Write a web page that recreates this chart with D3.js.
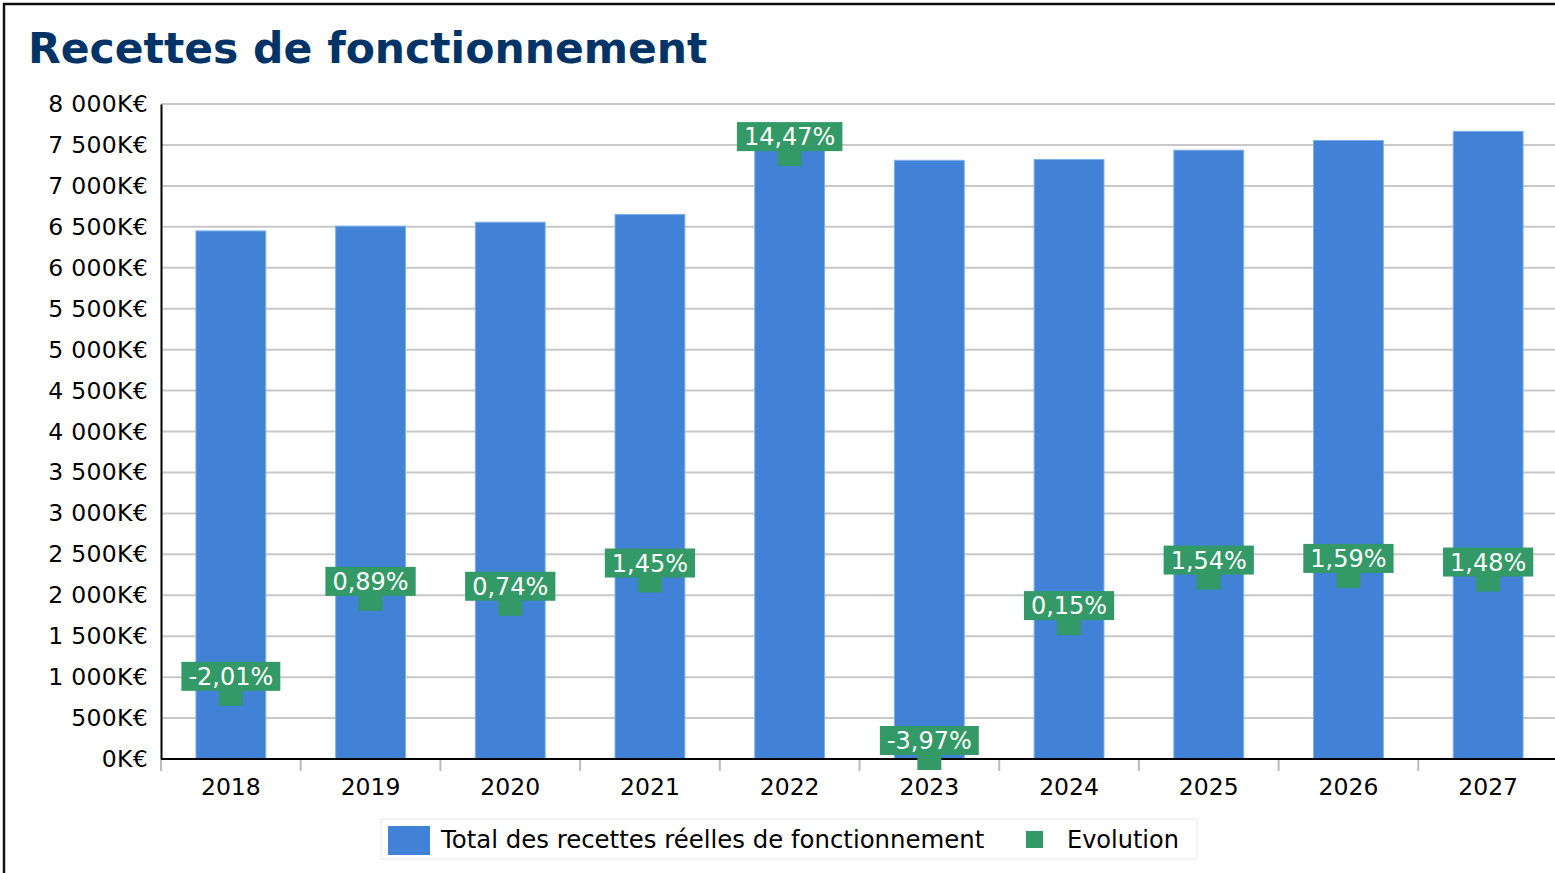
<!DOCTYPE html>
<html>
<head>
<meta charset="utf-8">
<script src="https://cdn.jsdelivr.net/npm/d3@7"></script>
<style>
  body { margin: 0; background: #fff; }
  text { font-family: "DejaVu Sans", sans-serif; }
</style>
</head>
<body>
<svg width="1555" height="873"></svg>
<script>
var years = ["2018", "2019", "2020", "2021", "2022", "2023", "2024", "2025", "2026", "2027"];
// K€
var totals = [6450, 6508, 6556, 6651, 7614, 7312, 7323, 7436, 7554, 7666];
// %
var evolution = [-2.01, 0.89, 0.74, 1.45, 14.47, -3.97, 0.15, 1.54, 1.59, 1.48];
var yTicks = [0, 500, 1000, 1500, 2000, 2500, 3000, 3500, 4000, 4500, 5000, 5500, 6000, 6500, 7000, 7500, 8000];

var svg = d3.select("svg"),
    pLeft = 161, pRight = 1558, pTop = 104, pBottom = 759;

var blue = "#4182d6", green = "#339966";

// outer frame (only top/left visible)
svg.append("rect")
    .attr("x", 4).attr("y", 4)
    .attr("width", 1700).attr("height", 1000)
    .attr("fill", "none").attr("stroke", "#111").attr("stroke-width", 2.5);

svg.append("text")
    .attr("x", 28).attr("y", 63)
    .attr("font-size", 42.5).attr("font-weight", "bold")
    .attr("fill", "#003366")
    .text("Recettes de fonctionnement");

var x = d3.scaleBand().domain(years).range([pLeft, pRight]);
var y = d3.scaleLinear().domain([0, 8000]).range([pBottom, pTop]);
var y2 = d3.scaleLinear().domain([-4, 16]).range([pBottom, pTop]);

var fmtK = function(v) { return d3.format(",")(v).replace(/,/g, " ") + "K€"; };
var fmtPct = function(v) { return v.toFixed(2).replace(".", ",") + "%"; };

// gridlines
svg.append("g")
  .selectAll("line")
  .data(yTicks.slice(1))
  .enter().append("line")
    .attr("x1", pLeft).attr("x2", pRight)
    .attr("y1", d => y(d)).attr("y2", d => y(d))
    .attr("stroke", "#c8c8c8").attr("stroke-width", 2);

// y axis
var yAxis = svg.append("g")
    .attr("transform", "translate(" + pLeft + ",0)")
    .call(d3.axisLeft(y).tickValues(yTicks).tickFormat(fmtK).tickSize(0).tickPadding(13));
yAxis.select(".domain").attr("stroke", "#000").attr("stroke-width", 2);
yAxis.selectAll("text")
    .attr("font-family", "DejaVu Sans").attr("font-size", 23.5).attr("fill", "#000")
    .attr("letter-spacing", 0.3);

// bars
var bw = x.bandwidth() * 0.5;
svg.append("g")
  .selectAll("rect")
  .data(years)
  .enter().append("rect")
    .attr("x", (d, i) => x(d) + (x.bandwidth() - bw) / 2)
    .attr("y", (d, i) => y(totals[i]))
    .attr("width", bw)
    .attr("height", (d, i) => y(0) - y(totals[i]))
    .attr("fill", blue)
    .attr("stroke", "#7fb0ea").attr("stroke-width", 1);

// x axis
var xg = svg.append("g").attr("transform", "translate(0," + pBottom + ")");
xg.append("line")
    .attr("x1", pLeft).attr("x2", pRight)
    .attr("stroke", "#000").attr("stroke-width", 2);
xg.selectAll(".tk")
  .data(years)
  .enter().append("line")
    .attr("x1", d => x(d)).attr("x2", d => x(d))
    .attr("y1", 1).attr("y2", 12)
    .attr("stroke", "#bbb").attr("stroke-width", 2);
xg.selectAll(".lbl")
  .data(years)
  .enter().append("text")
    .attr("x", d => x(d) + x.bandwidth() / 2)
    .attr("y", 36)
    .attr("text-anchor", "middle")
    .attr("font-size", 23.5)
    .text(d => d);

// evolution markers and labels
var ev = svg.append("g")
  .selectAll("g")
  .data(years)
  .enter().append("g")
    .attr("transform", (d, i) => "translate(" + (x(d) + x.bandwidth() / 2) + "," + y2(evolution[i]) + ")");

ev.append("rect")
    .attr("x", -12).attr("y", -12)
    .attr("width", 24).attr("height", 24)
    .attr("fill", green);

ev.each(function(d, i) {
    var gg = d3.select(this);
    var box = gg.append("rect").attr("fill", green);
    var t = gg.append("text")
        .attr("y", -9)
        .attr("text-anchor", "middle")
        .attr("font-size", 24)
        .attr("fill", "#fff")
        .text(fmtPct(evolution[i]));
    var w = t.node().getComputedTextLength() + 14;
    box.attr("x", -w / 2).attr("y", -32).attr("width", w).attr("height", 29);
});

// legend
var lg = svg.append("g");
lg.append("rect")
    .attr("x", 381).attr("y", 819).attr("width", 816).attr("height", 40)
    .attr("fill", "#fff").attr("stroke", "#e8e8e8").attr("stroke-width", 1);
lg.append("rect")
    .attr("x", 388).attr("y", 826).attr("width", 42).attr("height", 29)
    .attr("fill", blue);
lg.append("text")
    .attr("x", 441).attr("y", 848)
    .attr("font-size", 24.4)
    .text("Total des recettes réelles de fonctionnement");
lg.append("rect")
    .attr("x", 1026).attr("y", 831).attr("width", 17).attr("height", 17)
    .attr("fill", green);
lg.append("text")
    .attr("x", 1067).attr("y", 848)
    .attr("font-size", 24)
    .text("Evolution");
</script>
</body>
</html>
